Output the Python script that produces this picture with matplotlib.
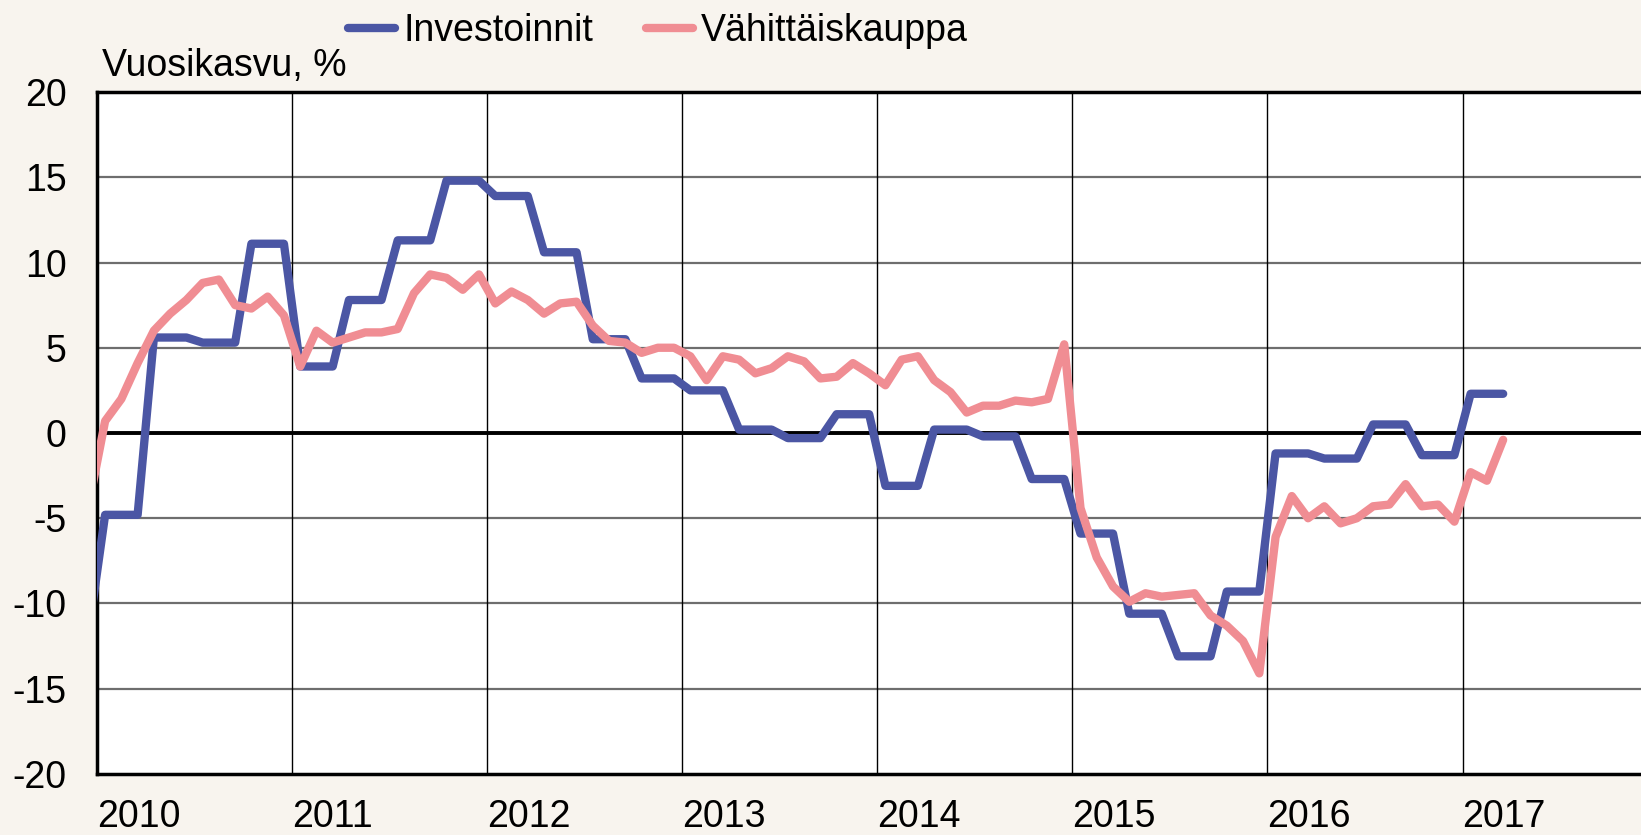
import numpy as np
import matplotlib.pyplot as plt

# ===== data (annual growth, %) =====
# monthly points from Dec 2009 to Mar 2017, plotted mid-month
START_YEAR = 2009
START_MONTH = 12

# investments: quarterly figures, same value for each month of the quarter
investoinnit = [
    -11.6,
    -4.8, -4.8, -4.8, 5.6, 5.6, 5.6, 5.3, 5.3, 5.3, 11.1, 11.1, 11.1,
    3.9, 3.9, 3.9, 7.8, 7.8, 7.8, 11.3, 11.3, 11.3, 14.8, 14.8, 14.8,
    13.9, 13.9, 13.9, 10.6, 10.6, 10.6, 5.5, 5.5, 5.5, 3.2, 3.2, 3.2,
    2.5, 2.5, 2.5, 0.2, 0.2, 0.2, -0.3, -0.3, -0.3, 1.1, 1.1, 1.1,
    -3.1, -3.1, -3.1, 0.2, 0.2, 0.2, -0.2, -0.2, -0.2, -2.7, -2.7, -2.7,
    -5.9, -5.9, -5.9, -10.6, -10.6, -10.6, -13.1, -13.1, -13.1, -9.3, -9.3, -9.3,
    -1.2, -1.2, -1.2, -1.5, -1.5, -1.5, 0.5, 0.5, 0.5, -1.3, -1.3, -1.3,
    2.3, 2.3, 2.3,
]

vahittaiskauppa = [
    -4.2,
    0.7, 2.0, 4.1, 6.0, 7.0, 7.8, 8.8, 9.0, 7.5, 7.3, 8.0, 6.9,
    3.9, 6.0, 5.3, 5.6, 5.9, 5.9, 6.1, 8.2, 9.3, 9.1, 8.4, 9.3,
    7.6, 8.3, 7.8, 7.0, 7.6, 7.7, 6.3, 5.4, 5.3, 4.7, 5.0, 5.0,
    4.5, 3.1, 4.5, 4.3, 3.5, 3.8, 4.5, 4.2, 3.2, 3.3, 4.1, 3.5,
    2.8, 4.3, 4.5, 3.1, 2.4, 1.2, 1.6, 1.6, 1.9, 1.8, 2.0, 5.2,
    -4.4, -7.3, -9.0, -9.9, -9.4, -9.6, -9.5, -9.4, -10.7, -11.3, -12.2, -14.1,
    -6.1, -3.7, -5.0, -4.3, -5.3, -5.0, -4.3, -4.2, -3.0, -4.3, -4.2, -5.2,
    -2.3, -2.8, -0.4,
]

YEARS = list(range(2010, 2018))
LABELS = ["Investoinnit", "Vähittäiskauppa"]
COLORS = ["#4B56A4", "#F08D93"]

# ===== style =====
BG = "#F8F4EE"
FONT_SIZE = 27
plt.rcParams["font.family"] = ["Liberation Sans", "DejaVu Sans"]

# x position: fractional year, middle of month
months = np.arange(len(vahittaiskauppa)) + (START_MONTH - 1)
x = START_YEAR + (months + 0.5) / 12

fig = plt.figure(figsize=(16.41, 8.35), dpi=100, facecolor=BG)
ax = fig.add_axes([0.0591, 0.0731, 0.9409, 0.8167])
ax.set_facecolor("white")

ax.set_xlim(2010, 2017.915)
ax.set_ylim(-20, 20)

# grid
for y in range(-15, 20, 5):
    if y != 0:
        ax.axhline(y, color="#6e6e6e", lw=1.6, zorder=1)
for yr in YEARS[1:]:
    ax.axvline(yr, color="black", lw=1.0, zorder=1)
ax.axhline(0, color="black", lw=2.8, zorder=2)

lines = []
for vals, col, lab in zip([investoinnit, vahittaiskauppa], COLORS, LABELS):
    (ln,) = ax.plot(x, vals, color=col, lw=6, label=lab, zorder=3,
                    solid_capstyle="round", solid_joinstyle="round")
    lines.append(ln)

# spines
for s in ["left", "bottom", "top"]:
    ax.spines[s].set_linewidth(2.5)
    ax.spines[s].set_color("black")
ax.spines["right"].set_visible(False)

ax.set_yticks(range(-20, 25, 5))
ax.set_yticklabels([str(v) for v in range(-20, 25, 5)])
ax.set_xticks(YEARS)
ax.set_xticklabels([str(v) for v in YEARS])
ax.tick_params(axis="y", length=0, pad=22, labelsize=FONT_SIZE)
ax.tick_params(axis="x", length=0, pad=18, labelsize=FONT_SIZE)
for lbl in ax.get_xticklabels():
    lbl.set_horizontalalignment("left")

fig.text(102 / 1641, 1 - 66 / 835, "Vuosikasvu, %", fontsize=FONT_SIZE,
         ha="left", va="center")

fig.legend(lines, LABELS, loc="center", bbox_to_anchor=(0.401, 1 - 31 / 835),
           ncol=2, frameon=False, fontsize=FONT_SIZE, handlelength=1.25,
           handletextpad=0.22, columnspacing=1.4, borderpad=0)

fig.savefig("out.png", dpi=100, facecolor=BG)
